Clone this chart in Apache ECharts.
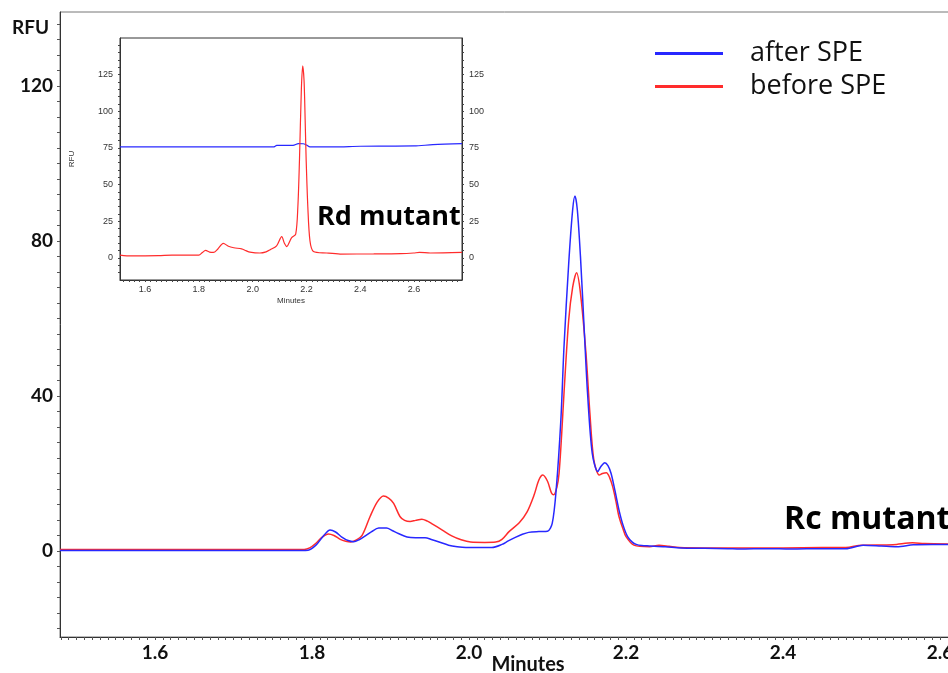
<!DOCTYPE html>
<html><head><meta charset="utf-8">
<script src="https://cdn.jsdelivr.net/npm/echarts@6/dist/echarts.min.js"></script>
<style>html,body{margin:0;padding:0;background:#fff}#c{width:948px;height:673px}</style>
</head><body><div id="c"></div>
<script>
// ---------- DATA ----------
const seriesNames = ['after SPE', 'before SPE'];
const mainXTicks = [1.6, 1.8, 2.0, 2.2, 2.4, 2.6];
const mainYTicks = [0, 40, 80, 120];
const insetXTicks = [1.6, 1.8, 2.0, 2.2, 2.4, 2.6];
const insetYTicks = [0, 25, 50, 75, 100, 125];

// Main chart (Rc mutant) - after SPE (blue)
const mainAfterX = [1.479,1.60,1.70,1.775,1.795,1.805,1.815,1.823,1.830,1.838,1.846,1.853,1.860,1.868,1.876,1.885,1.895,1.902,1.910,1.921,1.932,1.944,1.953,1.961,1.974,1.985,1.996,2.015,2.029,2.042,2.050,2.059,2.068,2.076,2.089,2.100,2.106,2.111,2.117,2.121,2.127,2.132,2.135,2.138,2.142,2.147,2.151,2.157,2.164,2.168,2.173,2.177,2.181,2.186,2.191,2.196,2.202,2.208,2.213,2.220,2.230,2.250,2.270,2.300,2.330,2.345,2.380,2.410,2.450,2.480,2.502,2.525,2.545,2.566,2.590,2.613];
const mainAfterY = [0.1,0.1,0.1,0.1,0.2,1.5,4.0,5.4,4.9,3.6,2.7,2.4,2.9,3.9,5.0,5.9,5.9,5.3,4.5,3.6,3.4,3.4,2.9,2.4,1.5,1.1,0.9,0.9,0.9,1.7,2.6,3.5,4.3,4.8,5.0,5.1,7.1,15.7,33.8,52.7,74.2,88.0,91.6,88.0,75.9,56.2,40.7,25.2,20.5,21.8,22.8,22.0,20.0,15.5,10.6,6.8,3.7,2.3,1.7,1.4,1.3,1.1,0.8,0.7,0.6,0.5,0.6,0.5,0.6,0.6,1.5,1.3,1.1,1.6,1.7,1.7];

// Main chart (Rc mutant) - before SPE (red)
const mainBeforeX = [1.479,1.70,1.790,1.797,1.805,1.813,1.821,1.828,1.836,1.843,1.849,1.856,1.864,1.874,1.883,1.891,1.898,1.904,1.912,1.918,1.925,1.932,1.940,1.947,1.953,1.966,1.978,1.990,2.002,2.020,2.034,2.042,2.051,2.064,2.074,2.083,2.089,2.094,2.100,2.105,2.108,2.112,2.1147,2.118,2.121,2.127,2.132,2.137,2.142,2.149,2.154,2.159,2.166,2.170,2.175,2.179,2.183,2.187,2.191,2.196,2.200,2.210,2.230,2.242,2.255,2.268,2.300,2.350,2.400,2.450,2.480,2.500,2.540,2.565,2.580,2.613];
const mainBeforeY = [0.4,0.4,0.4,0.8,2.0,3.6,4.4,4.0,3.0,2.5,2.3,2.8,4.1,8.9,12.6,14.2,13.6,12.3,8.9,7.9,7.6,7.9,8.2,7.7,7.0,5.4,3.9,2.9,2.3,2.2,2.3,3.0,5.0,7.3,10.1,14.5,18.3,19.6,18.0,15.0,14.5,16.5,20.0,30.0,40.7,59.6,68.0,71.8,66.5,51.0,35.5,23.5,19.6,20.0,20.2,19.0,16.6,13.0,8.9,5.8,3.7,1.5,1.1,1.5,1.2,0.9,0.8,0.8,0.8,0.9,0.9,1.5,1.6,2.1,1.9,1.8];

// Inset chart (Rd mutant) - after SPE (blue)
const insetAfterX = [1.507,1.80,2.077,2.090,2.150,2.170,2.188,2.200,2.213,2.300,2.400,2.500,2.600,2.670,2.778];
const insetAfterY = [75.7,75.7,75.7,76.8,76.8,78.0,77.9,77.0,75.7,75.7,76.2,76.3,76.4,77.3,78.0];

// Inset chart (Rd mutant) - before SPE (red)
const insetBeforeX = [1.507,1.550,1.650,1.700,1.800,1.812,1.825,1.840,1.854,1.870,1.891,1.910,1.930,1.959,1.975,1.990,2.027,2.050,2.065,2.089,2.108,2.118,2.127,2.137,2.145,2.160,2.168,2.174,2.181,2.186,2.191,2.195,2.199,2.205,2.213,2.226,2.275,2.325,2.450,2.550,2.598,2.620,2.660,2.778];
const insetBeforeY = [2.0,1.4,1.6,2.0,2.0,3.5,5.2,4.0,3.8,6.0,10.0,8.0,7.0,6.2,5.0,4.0,3.4,4.2,5.6,8.3,14.6,10.0,7.7,11.0,13.9,16.3,35.0,67.0,115.0,131.0,121.0,95.0,66.0,35.0,11.7,4.5,3.4,2.7,2.8,3.0,3.4,3.8,3.4,3.8];

// ---------- BUILD ----------
const zip = (xs, ys) => xs.map((x, i) => [x, ys[i]]);
function range(a, b, step) {
  const out = [];
  for (let v = a; v <= b + 1e-9; v += step) out.push(Math.round(v * 1000) / 1000);
  return out;
}
const BLUE = '#2828ff', RED = '#ff2c2c';
const FONT = 'Lato, "Open Sans", sans-serif';
const BIG = '"Open Sans", Lato, sans-serif';
const SMALL = '"Liberation Sans", Arial, sans-serif';

const mainXMin = 1.479, mainXMax = 2.6127;
const mainYMin = -22.2, mainYMax = 139.1;
const inXMin = 1.507, inXMax = 2.778, inYMin = -15, inYMax = 150;

const lineBase = { type: 'line', showSymbol: false, symbol: 'none', smooth: 0.3, animation: false };

const option = {
  animation: false,
  backgroundColor: '#fff',
  legend: {
    orient: 'vertical', left: 655, top: 40, itemGap: 6, padding: 0,
    icon: 'rect', itemWidth: 68, itemHeight: 3,
    data: seriesNames,
    textStyle: { fontFamily: BIG, fontSize: 27, lineHeight: 26, color: '#111', padding: [0, 0, 0, 22] },
    selectedMode: false
  },
  grid: [
    { left: 60, right: -2, top: 12, bottom: 36, outerBoundsMode: 'none', containLabel: false,
      show: true, borderColor: '#777', borderWidth: 1, backgroundColor: '#fff' },
    { left: 120, top: 38, width: 342, height: 242, outerBoundsMode: 'none', containLabel: false,
      show: true, borderColor: '#333', borderWidth: 1, backgroundColor: '#fff', z: 5 }
  ],
  xAxis: [
    {
      gridIndex: 0, type: 'value', min: mainXMin, max: mainXMax,
      axisLine: { show: true, onZero: false, lineStyle: { color: '#333', width: 1 } },
      axisTick: { show: true, length: 3, customValues: range(1.48, 2.61, 0.01), lineStyle: { color: '#555' } },
      axisLabel: { customValues: mainXTicks, formatter: v => v.toFixed(1), margin: 6,
        fontFamily: FONT, fontWeight: 'bold', fontSize: 19, color: '#111' },
      splitLine: { show: false }
    },
    {
      gridIndex: 1, type: 'value', min: inXMin, max: inXMax,
      name: 'Minutes', nameLocation: 'middle', nameGap: 17,
      nameTextStyle: { fontFamily: SMALL, fontSize: 8, color: '#333' },
      axisLine: { show: true, onZero: false, lineStyle: { color: '#333', width: 1 } },
      axisTick: { show: true, length: 2, customValues: range(1.52, 2.76, 0.02), lineStyle: { color: '#444' } },
      axisLabel: { customValues: insetXTicks, formatter: v => v.toFixed(1), margin: 5,
        fontFamily: SMALL, fontSize: 9, color: '#333' },
      splitLine: { show: false }, z: 6
    }
  ],
  yAxis: [
    {
      gridIndex: 0, type: 'value', min: mainYMin, max: mainYMax,
      axisLine: { show: true, onZero: false, lineStyle: { color: '#333', width: 1 } },
      axisTick: { show: true, length: 3, customValues: range(-20, 136, 4), lineStyle: { color: '#555' } },
      axisLabel: { customValues: mainYTicks, margin: 7,
        fontFamily: FONT, fontWeight: 'bold', fontSize: 19, color: '#111' },
      splitLine: { show: false }
    },
    {
      gridIndex: 1, type: 'value', min: inYMin, max: inYMax, position: 'left',
      name: 'RFU', nameLocation: 'middle', nameGap: 44, nameRotate: 90,
      nameTextStyle: { fontFamily: SMALL, fontSize: 8, color: '#333' },
      axisLine: { show: true, onZero: false, lineStyle: { color: '#333', width: 1 } },
      axisTick: { show: true, length: 2, customValues: range(-10, 145, 5), lineStyle: { color: '#444' } },
      axisLabel: { customValues: insetYTicks, margin: 7, fontFamily: SMALL, fontSize: 9, color: '#333' },
      splitLine: { show: false }, z: 6
    },
    {
      gridIndex: 1, type: 'value', min: inYMin, max: inYMax, position: 'right',
      axisLine: { show: true, onZero: false, lineStyle: { color: '#333', width: 1 } },
      axisTick: { show: true, length: 2, customValues: range(-10, 145, 5), lineStyle: { color: '#444' } },
      axisLabel: { customValues: insetYTicks, margin: 7, fontFamily: SMALL, fontSize: 9, color: '#333' },
      splitLine: { show: false }, z: 6
    }
  ],
  series: [
    Object.assign({}, lineBase, { name: seriesNames[1], xAxisIndex: 0, yAxisIndex: 0,
      data: zip(mainBeforeX, mainBeforeY), itemStyle: { color: RED }, lineStyle: { color: RED, width: 1.5 } }),
    Object.assign({}, lineBase, { name: seriesNames[0], xAxisIndex: 0, yAxisIndex: 0,
      data: zip(mainAfterX, mainAfterY), itemStyle: { color: BLUE }, lineStyle: { color: BLUE, width: 1.5 } }),
    Object.assign({}, lineBase, { name: seriesNames[0], xAxisIndex: 1, yAxisIndex: 1, z: 7,
      data: zip(insetAfterX, insetAfterY), itemStyle: { color: BLUE }, lineStyle: { color: BLUE, width: 1.2 } }),
    Object.assign({}, lineBase, { name: seriesNames[1], xAxisIndex: 1, yAxisIndex: 1, z: 7,
      data: zip(insetBeforeX, insetBeforeY), itemStyle: { color: RED }, lineStyle: { color: RED, width: 1.2 } })
  ],
  graphic: [
    { type: 'text', left: 12, top: 18, z: 20,
      style: { text: 'RFU', fontFamily: FONT, fontWeight: 'bold', fontSize: 19, fill: '#111' } },
    { type: 'text', x: 528, y: 665, z: 20,
      style: { text: 'Minutes', fontFamily: FONT, fontWeight: 'bold', fontSize: 20, fill: '#111',
        align: 'center', verticalAlign: 'middle' } },
    { type: 'text', left: 317, top: 204, z: 20,
      style: { text: 'Rd mutant', fontFamily: BIG, fontWeight: 'bold', fontSize: 27, fill: '#000' } },
    { type: 'text', left: 784, top: 504, z: 20,
      style: { text: 'Rc mutant', fontFamily: BIG, fontWeight: 'bold', fontSize: 32, fill: '#000' } }
  ]
};

const chart = echarts.init(document.getElementById('c'), null, { renderer: 'canvas' });
chart.setOption(option);
</script>
</body></html>
